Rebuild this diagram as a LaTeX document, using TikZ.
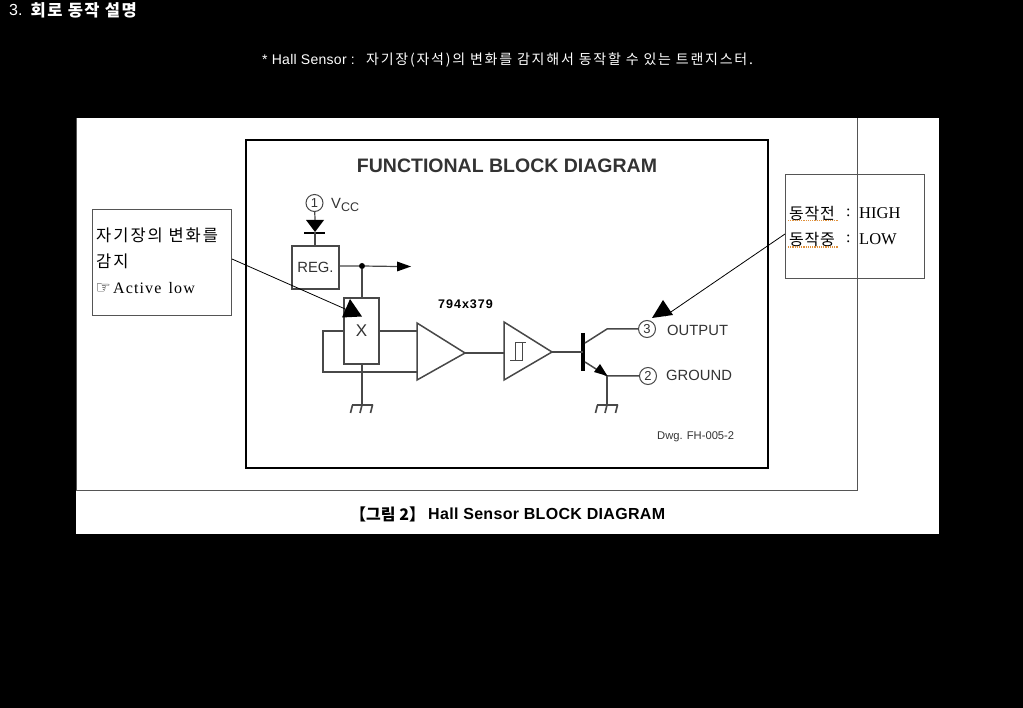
\documentclass[tikz,border=0pt]{standalone}
\usepackage{fontspec}
\setmainfont{Liberation Sans}
\newfontfamily\serifl{Liberation Serif}
\newfontfamily\krf{Noto Sans CJK KR}
\newfontfamily\symf{DejaVu Sans}
\usetikzlibrary{calc}
\definecolor{wire}{HTML}{484848}
\definecolor{inkgray}{HTML}{333333}
\definecolor{framegray}{HTML}{555555}
\definecolor{squig}{HTML}{E0903A}
\newcommand{\lsp}[1]{\addfontfeature{LetterSpace=#1}}
\tikzset{
  wirel/.style={draw=wire,line width=1.2pt},
  pin/.style={circle,draw=wire,line width=1pt,minimum size=17pt,inner sep=0pt,font=\fontsize{13}{13}\selectfont,text=inkgray},
  dlabel/.style={inner sep=0pt,text=inkgray,font=\fontsize{14.8}{15}\selectfont},
  callout/.style={draw=framegray,line width=1pt,inner sep=0pt},
  pointer/.style={draw=black,line width=0.8pt},
  tline/.style={inner sep=0pt,anchor=west},
  gnd/.style={wire,line width=1.6pt},
  squigl/.style={draw=squig,line width=1.2pt,densely dotted}
}
\begin{document}
\begin{tikzpicture}[x=1pt,y=-1pt]
\useasboundingbox (0,0) rectangle (1023,708);
\fill[black] (0,0) rectangle (1023,708);
\fill[white] (76,118) rectangle (939,534);
\draw[framegray,line width=1pt] (76.5,118) -- (76.5,490.5) -- (857,490.5) -- (857,118);
% main frame
\node[draw=black,line width=2pt,inner sep=0pt,minimum width=522pt,minimum height=327pt] (frame) at (507,304) {};
% headings
\node[tline,text=white] (title) at (9,10) {\fontsize{16}{16}\selectfont 3. };
\node[tline,text=white] (titlek) at (30.5,10) {\krf\bfseries\fontsize{16.5}{17}\selectfont\lsp{9}회로 동작 설명};
\node[tline,text=white] (sub) at (262,60) {\fontsize{14}{14}\selectfont\lsp{2}* Hall Sensor :};
\node[tline,text=white] (subk) at (366,60) {\krf\fontsize{14}{14}\selectfont\lsp{12.5}자기장(자석)의 변화를 감지해서 동작할 수 있는 트랜지스터.};
\node[inner sep=0pt,font=\bfseries\fontsize{19.5}{20}\selectfont,text=inkgray] (fbd) at (507,166) {FUNCTIONAL BLOCK DIAGRAM};
\node[inner sep=0pt,font=\bfseries\fontsize{12.5}{13}\selectfont] (size) at (465.5,304) {\lsp{8}794x379};
\node[tline] (cap) at (350,514) {\krf\bfseries\fontsize{16}{16}\selectfont 【그림 2】};
\node[tline] (capb) at (428,514) {\bfseries\fontsize{16}{16}\selectfont\lsp{2}Hall Sensor BLOCK DIAGRAM};
% Vcc
\node[pin] (p1) at (314.5,203) {1};
\node[dlabel,anchor=west] (vcc) at (331,205) {V\raisebox{-3pt}{\fontsize{12.5}{12}\selectfont CC}};
\coordinate (dtop) at (315,220);
\coordinate (dbot) at (315,232);
\draw[wirel] (p1) -- (dtop);
\fill[black] (306,220) -- (324,220) -- (dbot) -- cycle;
\draw[black,line width=2pt] (304,233) -- (325,233);
% REG
\node[draw=wire,line width=1.2pt,inner sep=0pt,minimum width=47pt,minimum height=43pt,dlabel] (reg) at (315.5,267.5) {REG.};
\draw[wirel] (dbot) -- (reg.north -| dbot);
\node[circle,fill=black,inner sep=0pt,minimum size=6pt] (jn) at (362,266) {};
\coordinate (rout) at (411,266.5);
\coordinate (rtip) at (397,266.5);
\draw[wirel] (reg.east |- jn) -- (jn) -- (rtip);
\fill[black] (397,261.5) -- (rout) -- (397,271.5) -- cycle;
% X
\node[draw=wire,line width=1.2pt,inner sep=0pt,minimum width=35pt,minimum height=66pt,dlabel,font=\fontsize{17}{17}\selectfont] (xb) at (361.5,331) {X};
\draw[wirel] (jn) -- (xb.north -| jn);
% amp 1
\coordinate (a1t) at (417,323);
\coordinate (a1b) at (417,380);
\coordinate (a1o) at (465,353);
\draw[wire,line width=1.5pt,line join=miter] (a1t) -- (a1o) -- (a1b) -- cycle;
\coordinate (ll1) at (323,331);
\coordinate (ll2) at (323,372);
\draw[wirel] (xb.west |- ll1) -- (ll1) -- (ll2) -- (ll2 -| a1b);
\draw[wirel] (xb.east |- ll1) -- (ll1 -| a1t);
% amp 2
\coordinate (a2t) at (504,322);
\coordinate (a2b) at (504,380);
\coordinate (a2o) at (552,352);
\draw[wire,line width=1.5pt] (a2t) -- (a2o) -- (a2b) -- cycle;
\draw[wirel] (a1o) -- (a2t |- a1o);
\draw[wire,line width=1pt] (515,343) -- (526,343) (515,343) -- (515,361) -- (510,361) (522,343) -- (522,361) -- (515,361);
% transistor
\coordinate (bs) at (583,333);
\coordinate (be) at (583,371);
\draw[black,line width=4pt] (bs) -- (be);
\coordinate (cc) at (607,329);
\coordinate (ee) at (607,376);
\node[pin] (p3) at (647,329) {3};
\node[pin] (p2) at (648,376) {2};
\draw[wirel] (a2o) -- (a2o -| bs);
\draw[wire,line width=1.5pt] (585,343) -- (cc) -- (p3);
\draw[wire,line width=1.5pt] (585,362) -- (ee) -- (p2);
\fill[black] (594,372) -- (600,364) -- (607.5,376) -- cycle;
\node[dlabel,anchor=west] (out) at (667,330) {OUTPUT};
\node[dlabel,anchor=west] (gr) at (666,375) {GROUND};
\node[inner sep=0pt,anchor=west,text=inkgray,font=\fontsize{11.2}{12}\selectfont] (dwg) at (657,436.5) {Dwg. FH-005-2};
% grounds
\coordinate (g1) at (362,405);
\coordinate (g2) at (607,405);
\draw[wirel] (xb.south -| g1) -- (g1);
\draw[wirel] (ee) -- (g2);
\foreach \g in {g1,g2}{
  \draw[gnd] ($(\g)+(-10,0)$) -- ($(\g)+(11,0)$)
    ($(\g)+(-9.5,0)$) -- ($(\g)+(-11.5,8)$)
    ($(\g)+(0,0)$) -- ($(\g)+(-2,8)$)
    ($(\g)+(10.5,0)$) -- ($(\g)+(8.5,8)$);
}
% left callout
\node[callout,minimum width=139.5pt,minimum height=105.5pt] (lc) at (162,262.5) {};
\node[tline] (l1) at (96,235.5) {\krf\fontsize{16.5}{17}\selectfont\lsp{12}자기장의 변화를};
\node[tline] (l2) at (96,261.5) {\krf\fontsize{16.5}{17}\selectfont\lsp{12}감지};
\node[tline] (l3) at (95.5,289) {\symf\bfseries\fontsize{17}{17}\selectfont ☞};
\node[tline] (l3b) at (113,288) {\serifl\fontsize{16}{16}\selectfont\lsp{7}Active\hspace{2pt} low};
\coordinate (lo) at (232,259);
\coordinate (li) at (352,312);
\draw[pointer] (lo) -- (li);
\fill[black] (342,317.5) -- (350,299) -- (362,316.5) -- cycle;
% right callout
\node[callout,minimum width=139.5pt,minimum height=104pt] (rc) at (855,226.2) {};
\draw[framegray,line width=1pt] (857,174) -- (857,278);
\node[tline] (r1) at (789,213.5) {\krf\fontsize{16}{16}\selectfont\lsp{5}동작전};
\node[tline] (r1b) at (846,213) {\serifl\fontsize{16}{16}\selectfont :};
\node[tline] (r1c) at (859,213) {\serifl\fontsize{16.5}{16}\selectfont HIGH};
\node[tline] (r2) at (789,239.5) {\krf\fontsize{16}{16}\selectfont\lsp{5}동작중};
\node[tline] (r2b) at (846,239) {\serifl\fontsize{16}{16}\selectfont :};
\node[tline] (r2c) at (859,239) {\serifl\fontsize{16.5}{16}\selectfont LOW};
\draw[squigl] (788,220.5) -- (838,220.5);
\draw[squigl] (788,247) -- (838,247);
\coordinate (ro) at (785,234);
\coordinate (ri) at (665,316);
\draw[pointer] (ro) -- (ri);
\fill[black] (652,318) -- (663,300) -- (673,315) -- cycle;
\end{tikzpicture}
\end{document}
